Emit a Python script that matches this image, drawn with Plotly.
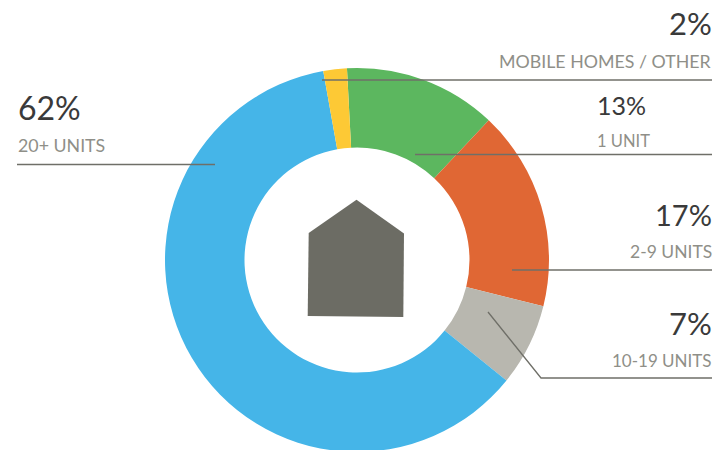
import plotly.graph_objects as go

W, H = 716, 460
categories = ["1 UNIT", "2-9 UNITS", "10-19 UNITS", "20+ UNITS", "MOBILE HOMES / OTHER"]
values = [13, 17, 7, 62, 2]
colors = ["#5CB75F", "#E06734", "#B8B7AF", "#45B5E8", "#FDC935"]
pct_labels = ["13%", "17%", "7%", "62%", "2%"]

# label layout: x, big y, small y, big size, anchor
label_x = [595, 714, 714, 16, 714]
big_y = [105, 214, 323, 107, 23]
small_y = [141, 251, 360, 145, 61]
big_size = [25, 29, 31, 32, 31]
small_size = [16.5, 17.5, 17, 17.8, 17.8]
anchors = ["left", "right", "right", "left", "right"]
# leader-lines
leaders = [
    [(415, 154.5), (712, 154.5)],
    [(512, 270), (712, 270)],
    [(488, 312), (541, 378), (712, 378)],
    [(17, 164.5), (215, 164.5)],
    [(322, 80), (712, 80)],
]
house_x = [356.5, 404, 403.3, 307.7, 308.7, 356.5]
house_y = [199.7, 233.5, 317, 316, 233, 199.7]

fig = go.Figure()
fig.add_trace(go.Scatter(x=house_x, y=house_y, mode="lines", fill="toself",
                         fillcolor="#6C6C64", line=dict(width=0, color="#6C6C64"),
                         hoverinfo="skip", showlegend=False))
fig.add_trace(go.Pie(values=values, labels=categories, hole=112.5 / 192, sort=False,
                     direction="clockwise", rotation=-3, textinfo="none",
                     marker=dict(colors=colors, line=dict(width=0)),
                     domain=dict(x=[165 / W, 549 / W], y=[(H - 452) / H, (H - 68) / H]),
                     showlegend=False))

shapes = []
for pts in leaders:
    path = "M " + " L ".join(f"{x},{y}" for x, y in pts)
    shapes.append(dict(type="path", path=path, xref="x", yref="y",
                       line=dict(color="#6F6F68", width=1.3), layer="above"))

ann = []
for i, cat in enumerate(categories):
    ann.append(dict(x=label_x[i], y=big_y[i], xref="x", yref="y", text=pct_labels[i],
                    showarrow=False, xanchor=anchors[i], yanchor="middle",
                    font=dict(family="Lato", size=big_size[i], color="#3A3A3A")))
    ann.append(dict(x=label_x[i], y=small_y[i], xref="x", yref="y", text=cat,
                    showarrow=False, xanchor=anchors[i], yanchor="middle",
                    font=dict(family="Lato", size=small_size[i], color="#8F8F88")))

fig.update_layout(
    width=W, height=H, margin=dict(l=0, r=0, t=0, b=0),
    paper_bgcolor="white", plot_bgcolor="white", showlegend=False,
    xaxis=dict(range=[0, W], visible=False, fixedrange=True),
    yaxis=dict(range=[H, 0], visible=False, fixedrange=True),
    shapes=shapes, annotations=ann,
)
fig.write_html("out.html", config={"displayModeBar": False},
               post_script="document.body.style.margin='0';document.body.style.overflow='hidden';document.documentElement.style.overflow='hidden';")
